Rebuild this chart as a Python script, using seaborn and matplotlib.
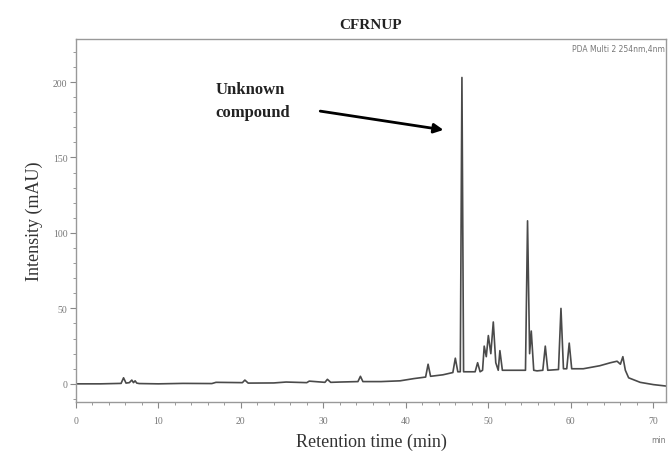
import matplotlib
matplotlib.use('Agg')
import matplotlib.pyplot as plt
import seaborn as sns
import pandas as pd

# chromatogram trace (vertices of the drawn line)
retention_min = [0, 3, 5.5, 5.8, 6.1, 6.5, 6.8, 7.0, 7.2, 7.4, 7.7, 10, 13, 16.5, 17.0,
                 20.2, 20.5, 20.9, 24, 25.5, 28, 28.3, 30.2, 30.5, 30.9, 32, 34.2, 34.5,
                 34.8, 37, 39.3, 41, 42.4, 42.7, 43.0, 44.5, 45.7, 46.0, 46.3, 46.6, 46.8,
                 47.0, 47.4, 48.4, 48.7, 49.0, 49.3, 49.5, 49.75, 50.0, 50.3, 50.6, 50.9,
                 51.2, 51.4, 51.7, 52.6, 54.5, 54.75, 55.0, 55.2, 55.5, 55.9, 56.6, 56.9,
                 57.2, 58.5, 58.8, 59.1, 59.5, 59.8, 60.1, 61.5, 63.5, 64.8, 65.6, 66.0,
                 66.3, 66.6, 67.0, 68.4, 70, 71.6]
intensity_mau = [0, 0, 0.3, 4, 0.5, 0.8, 2.5, 0.8, 2, 0.5, 0.2, 0, 0.3, 0.2, 1,
                 0.8, 2.5, 0.5, 0.6, 1.2, 0.8, 1.8, 1, 3, 1, 1.2, 1.5, 5,
                 1.5, 1.5, 2, 3.5, 4.5, 13, 5, 6, 7.5, 17, 8, 8, 203,
                 8, 8, 8, 14, 8, 9, 25, 18, 32, 20, 41, 14,
                 9, 22, 9, 9, 9, 108, 20, 35, 9, 8.6, 9, 25,
                 9, 9.5, 50, 10, 10, 27, 10, 10, 12, 14, 15, 13,
                 18, 9, 4, 1, -0.5, -1.5]

peak_label = 'Unknown\ncompound'
title = 'CFRNUP'
detector = 'PDA Multi 2 254nm,4nm'

df = pd.DataFrame({'Retention time (min)': retention_min, 'Intensity (mAU)': intensity_mau})

sns.set_style('white')
plt.rcParams['font.family'] = ['Liberation Serif', 'DejaVu Serif']

fig = plt.figure(figsize=(6.68, 4.6), dpi=100)
ax = fig.add_axes([0.1133, 0.124, 0.884, 0.789])

sns.lineplot(x='Retention time (min)', y='Intensity (mAU)', data=df, ax=ax,
             color='#4a4a4a', linewidth=1.2, sort=False, estimator=None)

ax.set_xlim(0, 71.55)
ax.set_ylim(-12, 228.5)
ax.set_xticks(range(0, 71, 10))
ax.set_xticks(range(0, 72, 2), minor=True)
ax.set_yticks([0, 50, 100, 150, 200])
ax.set_yticks(range(-10, 221, 10), minor=True)
ax.tick_params(axis='both', which='both', bottom=True, left=True)
ax.tick_params(axis='both', which='major', labelsize=7, colors='#888888',
               labelcolor='#777777', length=4, width=0.8, direction='out', pad=2)
ax.tick_params(axis='both', which='minor', colors='#999999', length=2.5, width=0.7,
               direction='out')
ax.tick_params(axis='x', pad=6)
for s in ax.spines.values():
    s.set_color('#999999')
    s.set_linewidth(1.0)

ax.set_xlabel('Retention time (min)', fontsize=13, color='#333333', labelpad=6)
ax.set_ylabel('Intensity (mAU)', fontsize=13, color='#333333', labelpad=7)
ax.set_title(title, fontsize=11, fontweight='bold', color='#222222', pad=8)

ax.text(0.997, 0.985, detector, transform=ax.transAxes, fontsize=5.5,
        color='#777777', ha='right', va='top', family='DejaVu Sans')
ax.text(1.0, -0.09, 'min', transform=ax.transAxes, fontsize=5.5,
        color='#777777', ha='right', va='top', family='DejaVu Sans')

ax.annotate('', xy=(44.9, 168), xytext=(29.3, 181),
            arrowprops=dict(arrowstyle='-|>', color='black', lw=2.0,
                            mutation_scale=14))
ax.text(16.9, 188, peak_label, fontsize=12, fontweight='bold', color='#222222',
        ha='left', va='center', linespacing=1.6)

fig.savefig('out.png', dpi=100)
